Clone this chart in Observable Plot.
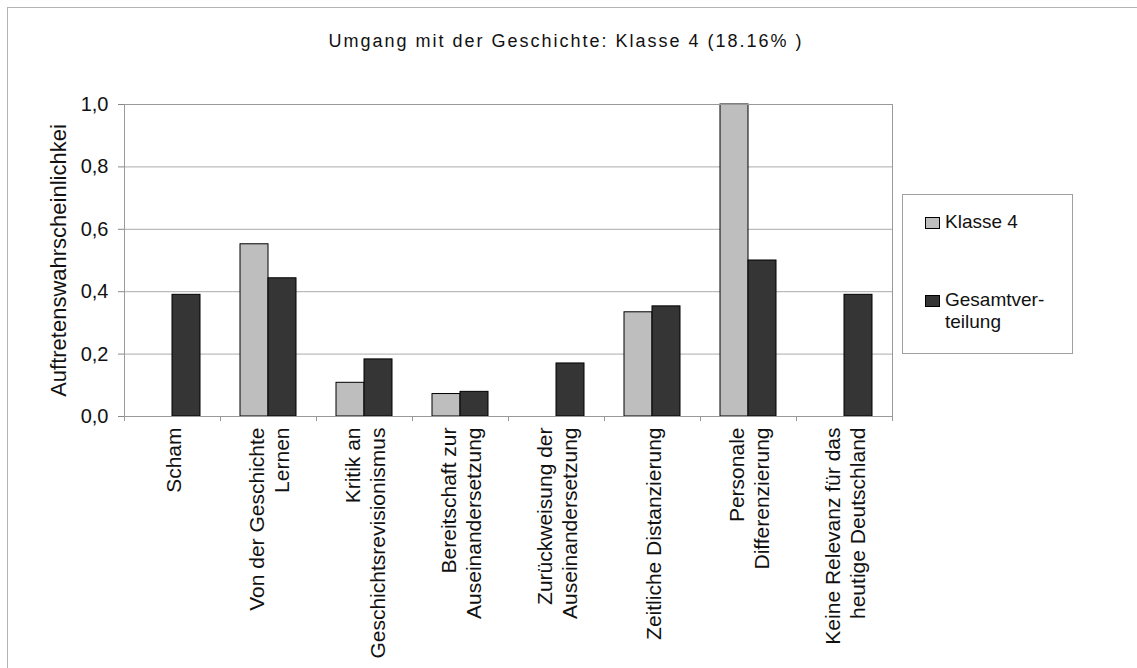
<!DOCTYPE html>
<html>
<head>
<meta charset="utf-8">
<script src="https://cdn.jsdelivr.net/npm/d3@7"></script>
<script src="https://cdn.jsdelivr.net/npm/@observablehq/plot@0.6"></script>
<style>
  html, body { margin: 0; padding: 0; background: #fff; }
  body { font-family: "Liberation Sans", Arial, sans-serif; }
  #wrap { position: relative; width: 1137px; height: 668px; overflow: hidden; background: #fff; }
  #border { position: absolute; left: 7px; top: 7px; width: 1200px; height: 800px;
            border-left: 1px solid #b4b4b4; border-top: 1px solid #b4b4b4; pointer-events: none; }
  #title { position: absolute; left: 0; top: 31px; width: 1132px; text-align: center;
           font-size: 18px; letter-spacing: 2px; color: #111; white-space: nowrap; }
  #legend { position: absolute; left: 902px; top: 194px; width: 169px; height: 158px;
            border: 1px solid #a0a0a0; background: #fff; }
  .item { position: absolute; left: 22px; font-size: 19px; line-height: 22px; color: #111; }
  .sw { position: absolute; width: 13px; height: 10px; border: 1px solid #000; }
  .lbl { position: absolute; left: 20px; white-space: nowrap; }
  #chart { position: absolute; left: 0; top: 0; }
</style>
</head>
<body>
<div id="wrap">
  <div id="chart"></div>
  <div id="border"></div>
  <div id="title"></div>
  <div id="legend"></div>
</div>
<script>
// ---- data ----
const title = "Umgang mit der Geschichte: Klasse 4 (18.16% )";
const yLabel = "Auftretenswahrscheinlichkei";
const categories = [
  "Scham",
  "Von der Geschichte\nLernen",
  "Kritik an\nGeschichtsrevisionismus",
  "Bereitschaft zur\nAuseinandersetzung",
  "Zurückweisung der\nAuseinandersetzung",
  "Zeitliche Distanzierung",
  "Personale\nDifferenzierung",
  "Keine Relevanz für das\nheutige Deutschland"
];
const series = ["Klasse 4", "Gesamtverteilung"];
const legendLabels = ["Klasse 4", "Gesamtver-\nteilung"];
const klasse4 = [0, 0.552, 0.108, 0.072, 0, 0.334, 1.0, 0];
const gesamt = [0.39, 0.443, 0.183, 0.079, 0.170, 0.353, 0.50, 0.39];
const yTicks = [0, 0.2, 0.4, 0.6, 0.8, 1.0];
const seriesColors = ["#bebebe", "#353535"];

// ---- table ----
const rows = categories.flatMap((c, i) => [
  {category: c, series: series[0], value: klasse4[i]},
  {category: c, series: series[1], value: gesamt[i]}
]).filter(d => d.value > 0);

const fmt = d => d.toFixed(1).replace(".", ",");

const chart = Plot.plot({
  width: 1137,
  height: 668,
  marginLeft: 124,
  marginRight: 245,
  marginTop: 104,
  marginBottom: 252,
  style: {fontFamily: "'Liberation Sans', Arial, sans-serif", fontSize: "20px", color: "#111", background: "transparent"},
  fx: {domain: categories, padding: 0, axis: null},
  x: {domain: series, paddingInner: 0, paddingOuter: 0.684, axis: null},
  y: {domain: [0, 1], axis: null},
  color: {domain: series, range: seriesColors},
  marks: [
    Plot.gridY(yTicks, {stroke: "#ababab", strokeOpacity: 1}),
    Plot.axisY(yTicks, {tickFormat: fmt, tickSize: 6, tickPadding: 10, stroke: "#888",
      fontSize: 20, label: null}),
    Plot.axisY({ticks: [], tickSize: 0, fontSize: 22, label: yLabel, labelAnchor: "center",
      labelOffset: 74, labelArrow: "none"}),
    Plot.barY(rows, {fx: "category", x: "series", y: "value", fill: "series", stroke: "#000", strokeWidth: 1}),
    Plot.text(categories, {fx: d => d, text: d => d, frameAnchor: "bottom", rotate: -90,
      textAnchor: "end", lineAnchor: "middle", lineHeight: 1.2, dy: 11, fontSize: 21, fill: "#111"})
  ]
});

// plot-area frame and category boundary ticks, from the library's scales
const fxS = chart.scale("fx"), yS = chart.scale("y");
const [x0, x1] = fxS.range;
const [yb, yt] = yS.range;
const band = d3.scaleBand().domain(fxS.domain).range(fxS.range).padding(0);
const svg = d3.select(chart);
const deco = svg.append("g").attr("stroke", "#999").attr("fill", "none").attr("shape-rendering", "crispEdges");
deco.append("rect").attr("x", x0 + 0.5).attr("y", yt + 0.5).attr("width", x1 - x0).attr("height", yb - yt);
deco.selectAll("line").data(d3.range(fxS.domain.length + 1)).join("line")
  .attr("x1", i => x0 + i * band.step() + 0.5).attr("x2", i => x0 + i * band.step() + 0.5)
  .attr("y1", yb).attr("y2", yb + 5);

document.getElementById("chart").appendChild(chart);
document.getElementById("title").textContent = title;

// legend
const legend = document.getElementById("legend");
const itemTops = [16, 94];
series.forEach((s, i) => {
  const item = document.createElement("div");
  item.className = "item";
  item.style.top = itemTops[i] + "px";
  const sw = document.createElement("div");
  sw.className = "sw";
  sw.style.background = seriesColors[i];
  sw.style.top = "6px";
  sw.style.left = "0px";
  const lb = document.createElement("div");
  lb.className = "lbl";
  lb.innerHTML = legendLabels[i].split("\n").join("<br>");
  item.appendChild(sw);
  item.appendChild(lb);
  legend.appendChild(item);
});
</script>
</body>
</html>
